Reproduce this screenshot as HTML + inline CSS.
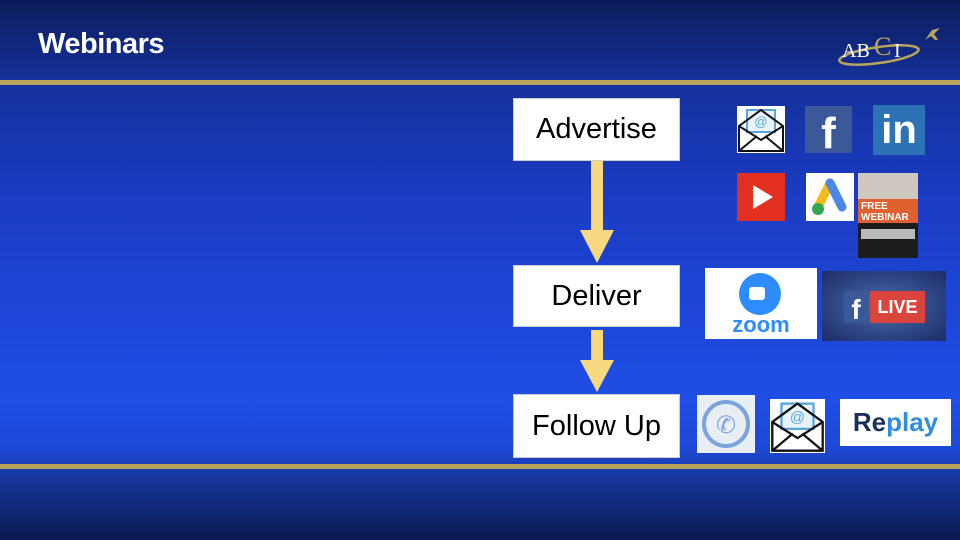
<!DOCTYPE html>
<html><head><style>
*{margin:0;padding:0;box-sizing:border-box}
body{width:960px;height:540px;overflow:hidden;position:relative;font-family:"Liberation Sans",sans-serif;
background:linear-gradient(180deg,#0c1c5a 0px,#15309a 80px,#1b3cc4 200px,#1f4ee6 400px,#1d48d6 450px,#153598 480px,#0b1a52 540px);}
.gold{position:absolute;left:0;width:960px;height:5px;background:#b9a45c}
.title{position:absolute;left:38px;top:28px;color:#fff;font-size:29px;font-weight:bold;letter-spacing:-0.5px}
.box{position:absolute;left:513px;width:167px;background:#fff;border:1px solid #ccc;display:flex;align-items:center;justify-content:center;font-size:29px;color:#000}
.ic{position:absolute}
</style></head><body>
<div class="title">Webinars</div>
<div class="gold" style="top:80px"></div>
<div class="gold" style="top:464px"></div>
<svg class="ic" style="left:834px;top:25px" width="110" height="45" viewBox="0 0 110 45">
<ellipse cx="45" cy="30" rx="40" ry="8" fill="none" stroke="#b9a45c" stroke-width="2.5" transform="rotate(-8 45 30)"/>
<text x="8" y="32" fill="#fff" font-size="20" font-family="Liberation Serif">AB</text>
<text x="40" y="30" fill="#b9a45c" font-size="26" font-family="Liberation Serif">C</text>
<text x="60" y="32" fill="#fff" font-size="20" font-family="Liberation Serif">I</text>
<path d="M98 5 l8 -2 -6 6 4 6 -3 0 -4 -4 -6 4 z" fill="#b9a45c"/>
</svg>
<div class="box" style="top:98px;height:63px">Advertise</div>
<div class="box" style="top:265px;height:62px">Deliver</div>
<div class="box" style="top:394px;height:64px">Follow Up</div>
<svg class="ic" style="left:575px;top:160px" width="45" height="235">
<rect x="16" y="1" width="12" height="70" fill="#f8d980"/>
<polygon points="5,70 39,70 22,103" fill="#f8d980"/>
<rect x="16" y="170" width="12" height="35" fill="#f8d980"/>
<polygon points="5,200 39,200 22,232" fill="#f8d980"/>
</svg>
<svg class="ic" style="left:737px;top:106px" width="48" height="47" viewBox="0 0 48 47"><rect width="48" height="47" fill="#fff"/><rect x="10" y="4" width="28" height="22" fill="#e8f2fa" stroke="#5aa6d8" stroke-width="2"/><text x="24" y="20" font-size="13" text-anchor="middle" fill="#5aa6d8">@</text><path d="M2 20 L24 4 L46 20 V45 H2 Z M2 20 L24 34 L46 20 M2 45 L20 30 M46 45 L28 30" fill="none" stroke="#111" stroke-width="2"/></svg>
<div class="ic" style="left:805px;top:106px;width:47px;height:47px;background:#3b5998;color:#fff;font:bold 44px 'Liberation Sans';text-align:center;line-height:56px;overflow:hidden">f</div>
<div class="ic" style="left:873px;top:105px;width:52px;height:50px;background:#2d72b4;color:#fff;font:bold 40px 'Liberation Sans';text-align:center;line-height:50px">in</div>
<svg class="ic" style="left:737px;top:173px" width="48" height="48"><rect width="48" height="48" fill="#e4301f"/><polygon points="16,12 36,24 16,36" fill="#fff"/></svg>
<svg class="ic" style="left:806px;top:173px" width="48" height="48"><rect width="48" height="48" fill="#fff"/><line x1="24" y1="10" x2="12" y2="34" stroke="#f6bb1a" stroke-width="9" stroke-linecap="round"/><line x1="24" y1="10" x2="36" y2="34" stroke="#4c86e8" stroke-width="9" stroke-linecap="round"/><circle cx="12" cy="36" r="6" fill="#33a852"/></svg>
<div class="ic" style="left:858px;top:173px;width:60px;height:85px;background:#1c1c1c"><div style="height:26px;background:#cfc8c0"></div><div style="height:24px;background:#e06030;color:#fff;font:bold 10px 'Liberation Sans';padding:2px 3px">FREE<br>WEBINAR</div><div style="margin:6px 3px;height:10px;background:#bbb"></div></div>
<div class="ic" style="left:705px;top:268px;width:112px;height:71px;background:#fff"><div style="position:absolute;left:34px;top:5px;width:42px;height:42px;border-radius:50%;background:#2d8cff"></div><div style="position:absolute;left:44px;top:19px;width:16px;height:13px;border-radius:3px;background:#fff"></div><div style="position:absolute;left:24px;top:44px;width:64px;color:#2d8cff;font:bold 22px 'Liberation Sans';text-align:center">zoom</div></div>
<div class="ic" style="left:822px;top:271px;width:124px;height:70px;background:radial-gradient(#4a6bb0,#1c2c66)"><div style="position:absolute;left:22px;top:20px;width:24px;height:32px;background:#3b5998;color:#fff;font:bold 28px 'Liberation Sans';text-align:center;line-height:38px">f</div><div style="position:absolute;left:48px;top:20px;width:55px;height:32px;background:#d9453d;color:#fff;font:bold 18px 'Liberation Sans';text-align:center;line-height:32px">LIVE</div></div>
<svg class="ic" style="left:697px;top:395px" width="58" height="58"><rect width="58" height="58" fill="#e9eef5"/><circle cx="29" cy="29" r="22" fill="none" stroke="#7aa5dc" stroke-width="4"/><text x="29" y="38" text-anchor="middle" font-size="24" fill="#7aa5dc">✆</text></svg>
<svg class="ic" style="left:770px;top:399px" width="55" height="54" viewBox="0 0 48 47" preserveAspectRatio="none"><rect width="48" height="47" fill="#fff"/><rect x="10" y="4" width="28" height="22" fill="#e8f2fa" stroke="#5aa6d8" stroke-width="2"/><text x="24" y="20" font-size="13" text-anchor="middle" fill="#5aa6d8">@</text><path d="M2 20 L24 4 L46 20 V45 H2 Z M2 20 L24 34 L46 20 M2 45 L20 30 M46 45 L28 30" fill="none" stroke="#111" stroke-width="2"/></svg>
<div class="ic" style="left:840px;top:399px;width:111px;height:47px;background:#fff;text-align:center;font:bold 26px 'Liberation Sans';line-height:47px"><span style="color:#1a2f5c">Re</span><span style="color:#2f8ee0">play</span></div>
</body></html>
